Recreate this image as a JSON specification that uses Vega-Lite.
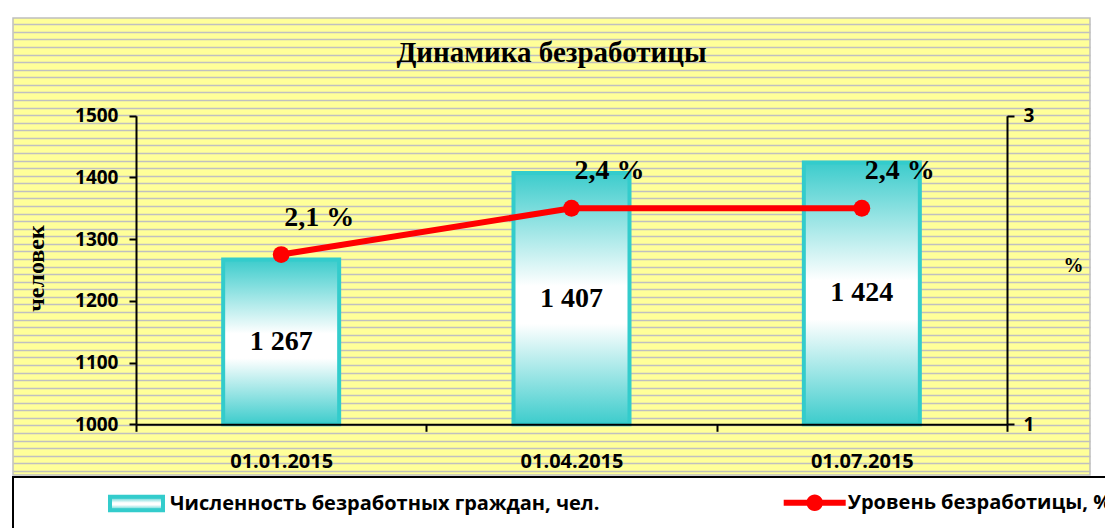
{
  "$schema": "https://vega.github.io/schema/vega-lite/v6.json",
  "padding": {"left": 12, "top": 17, "right": 0, "bottom": 0},
  "background": "white",
  "spacing": 2,
  "bounds": "flush",
  "config": {
    "locale": {"number": {"decimal": ",", "thousands": " ", "grouping": [3], "currency": ["", " %"]}},
    "axis": {
      "labelFont": "Open Sans", "labelFontWeight": "bold", "labelColor": "black",
      "domainColor": "black", "tickColor": "black", "domainWidth": 2, "tickWidth": 2, "tickSize": 7,
      "titleColor": "black"
    },
    "legend": {
      "labelFont": "Open Sans", "labelFontWeight": "bold", "labelFontSize": 20, "labelColor": "black",
      "labelLimit": 800, "padding": 0, "titlePadding": 0
    }
  },
  "vconcat": [
    {
      "width": 1077,
      "height": 457,
      "view": {"fill": "#FFFF99", "stroke": "#BFBFBF", "strokeWidth": 1.5},
      "title": {
        "text": "Динамика безработицы",
        "font": "Liberation Serif", "fontSize": 29, "fontWeight": "bold", "color": "black",
        "anchor": "middle", "frame": "group", "baseline": "alphabetic", "offset": -73
      },
      "data": {
        "values": [
          {"date": "01.01.2015", "count": 1267, "rate": 2.1},
          {"date": "01.04.2015", "count": 1407, "rate": 2.4},
          {"date": "01.07.2015", "count": 1424, "rate": 2.4}
        ]
      },
      "layer": [
        {
          "mark": {"type": "rule", "opacity": 0},
          "encoding": {
            "y": {
              "datum": 1, "type": "quantitative",
              "scale": {"domain": [0.46, 60.83], "nice": false, "zero": false},
              "axis": {
                "orient": "left", "grid": true, "gridColor": "#C0C0C0", "gridWidth": 1.6, "gridOpacity": 1,
                "tickCount": 60, "labels": false, "ticks": false, "domain": false, "title": null, "zindex": 0
              }
            }
          }
        },
        {
          "encoding": {
            "x": {
              "field": "date", "type": "ordinal", "sort": null,
              "scale": {"range": [123, 994], "paddingInner": 0, "paddingOuter": 0},
              "axis": {
                "orient": "bottom", "offset": -50.7, "tickBand": "extent",
                "labelFontSize": 20, "labelPadding": 20, "labelAngle": 0,
                "title": null, "zindex": 1
              }
            }
          },
          "layer": [
            {
              "encoding": {
                "y": {
                  "field": "count", "type": "quantitative",
                  "scale": {"domain": [1000, 1500], "range": [406.3, 97.7], "nice": false, "zero": false},
                  "axis": {
                    "orient": "left", "offset": -123, "values": [1000, 1100, 1200, 1300, 1400, 1500],
                    "format": "d", "labelFontSize": 19, "labelPadding": 11, "grid": false,
                    "title": "человек", "titleFont": "Liberation Serif", "titleFontSize": 24, "titleFontWeight": "bold",
                    "titleAngle": -90, "titleX": -100, "titleY": 250, "titleAlign": "center", "titleBaseline": "middle",
                    "zindex": 1
                  }
                }
              },
              "layer": [
                {
                  "transform": [{"calculate": "'Численность безработных граждан, чел.'", "as": "series"}],
                  "mark": {
                    "type": "bar", "size": 116, "strokeWidth": 4,
                    "fill": {
                      "gradient": "linear", "x1": 0, "y1": 0, "x2": 0, "y2": 1,
                      "stops": [
                        {"offset": 0, "color": "#3CCCCC"},
                        {"offset": 0.45, "color": "#FFFFFF"},
                        {"offset": 0.6, "color": "#FFFFFF"},
                        {"offset": 1, "color": "#3CCCCC"}
                      ]
                    }
                  },
                  "encoding": {
                    "y2": {"datum": 1000},
                    "stroke": {
                      "field": "series", "type": "nominal",
                      "scale": {"range": ["#33CCCC"]},
                      "legend": {
                        "orient": "none", "legendX": 93, "legendY": 455, "title": null,
                        "symbolType": "M-0.93,-0.24H0.93V0.24H-0.93Z", "symbolSize": 3249,
                        "symbolStrokeWidth": 4, "labelOffset": 3
                      }
                    }
                  }
                },
                {
                  "transform": [{"calculate": "(datum.count + 1000) / 2", "as": "mid"}],
                  "mark": {
                    "type": "text", "font": "Liberation Serif", "fontSize": 28, "fontWeight": "bold",
                    "color": "black", "align": "center", "baseline": "middle"
                  },
                  "encoding": {
                    "y": {"field": "mid", "type": "quantitative"},
                    "text": {"field": "count", "type": "quantitative", "format": ","}
                  }
                }
              ]
            },
            {
              "encoding": {
                "y": {
                  "field": "rate", "type": "quantitative",
                  "scale": {"domain": [1, 3], "range": [406.3, 97.7], "nice": false, "zero": false},
                  "axis": {
                    "orient": "right", "offset": -83, "values": [1, 2, 3], "format": "d",
                    "labelFontSize": 19, "labelPadding": 9, "grid": false,
                    "title": "%", "titleFont": "Liberation Serif", "titleFontSize": 20, "titleFontWeight": "bold",
                    "titleAngle": 0, "titleX": 66, "titleY": 247, "titleAlign": "center", "titleBaseline": "middle",
                    "zindex": 1
                  }
                }
              },
              "layer": [
                {
                  "mark": {"type": "line", "color": "#FF0000", "strokeWidth": 6}
                },
                {
                  "transform": [{"calculate": "'Уровень безработицы, %'", "as": "series2"}],
                  "mark": {"type": "circle", "size": 283, "opacity": 1},
                  "encoding": {
                    "color": {
                      "field": "series2", "type": "nominal",
                      "scale": {"range": ["#FF0000"]},
                      "legend": {
                        "orient": "none", "legendX": 770.7, "legendY": 453.7, "title": null,
                        "symbolType": "M-1,-0.097H1V0.097H-1Z M0.268,0A0.268,0.268 0 1 1 -0.268,0A0.268,0.268 0 1 1 0.268,0Z",
                        "symbolSize": 3844, "symbolStrokeWidth": 0, "labelOffset": 2
                      }
                    }
                  }
                },
                {
                  "mark": {
                    "type": "text", "font": "Liberation Serif", "fontSize": 28, "fontWeight": "bold",
                    "color": "black", "align": "center", "baseline": "middle", "dx": 38, "dy": -37
                  },
                  "encoding": {
                    "text": {"field": "rate", "type": "quantitative", "format": "$.1f"}
                  }
                }
              ]
            }
          ],
          "resolve": {"scale": {"y": "independent"}, "axis": {"y": "independent"}}
        }
      ],
      "resolve": {"scale": {"x": "independent", "y": "independent"}, "axis": {"x": "independent", "y": "independent"}}
    },
    {
      "width": 1100,
      "height": 60,
      "view": {"stroke": "black", "strokeWidth": 2, "fill": null},
      "data": {"values": [{}]},
      "mark": {"type": "point", "opacity": 0},
      "encoding": {}
    }
  ]
}
